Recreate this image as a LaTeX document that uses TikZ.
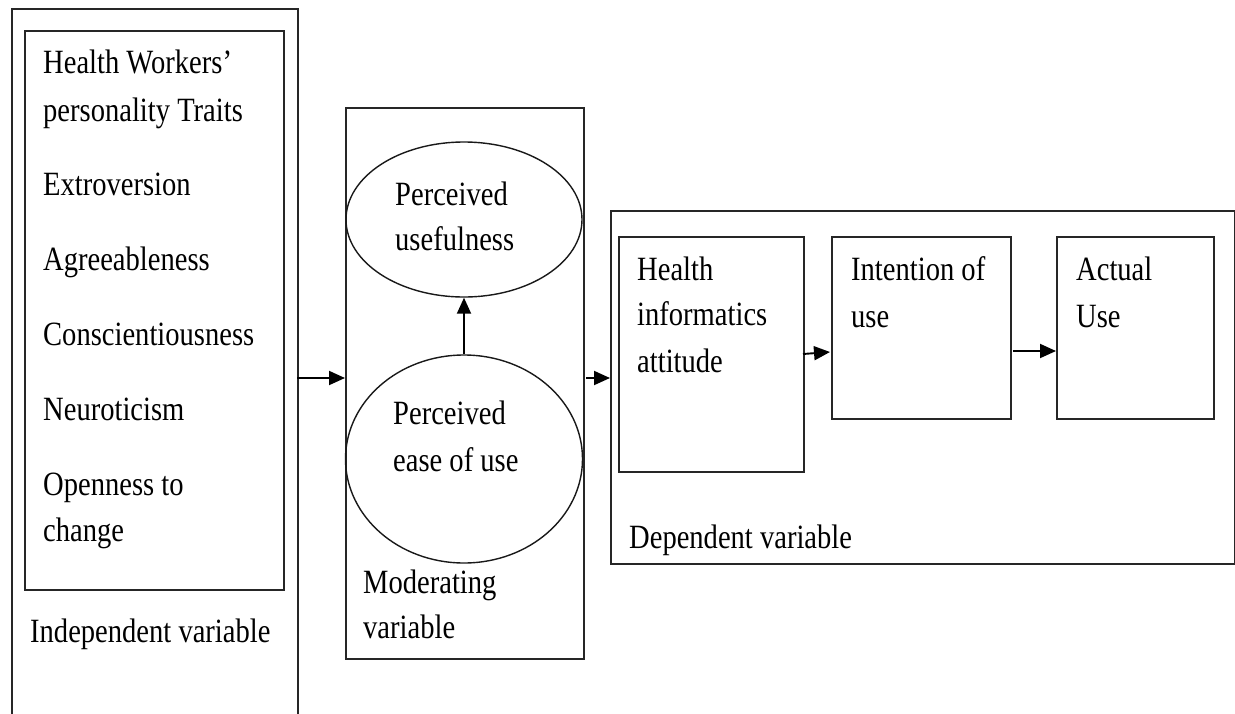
\documentclass[tikz,border=0pt]{standalone}
\usepackage{fontspec}
\setmainfont{Liberation Serif}
\usetikzlibrary{arrows.meta,shapes.geometric}
\newcommand{\sqz}[1]{\scalebox{0.84}[1]{#1}}
\tikzset{
  boxn/.style={draw=black!85, line width=1.6pt, rectangle, anchor=north west, inner sep=0pt},
  elln/.style={draw=black!90, line width=1.4pt, ellipse, inner sep=0pt},
  txt/.style={anchor=base west, inner sep=0pt, font=\fontsize{34}{48}\selectfont},
  arr/.style={line width=1.9pt, -{Triangle[length=16pt,width=14pt]}}
}
\begin{document}
\begin{tikzpicture}[x=1pt,y=-1pt]
\clip (0,0) rectangle (1235,713);
\fill[white] (0,0) rectangle (1235,713);
% boxes
\node[boxn, minimum width=286pt, minimum height=730pt] (outerL) at (11,8) {};
\node[boxn, minimum width=259pt, minimum height=559pt] (innerL) at (24,30) {};
\node[boxn, minimum width=238pt, minimum height=551pt] (mid) at (345,107) {};
\node[elln, minimum width=236pt, minimum height=155pt] (ellU) at (464,219.5) {};
\node[elln, minimum width=237pt, minimum height=208pt] (ellD) at (464,459) {};
\node[boxn, minimum width=624pt, minimum height=353pt] (dep) at (610,210) {};
\node[boxn, minimum width=185pt, minimum height=235pt] (hia) at (618,236) {};
\node[boxn, minimum width=179pt, minimum height=182pt] (int) at (831,236) {};
\node[boxn, minimum width=157pt, minimum height=182pt] (act) at (1056,236) {};
% left texts
\node[txt] (t1) at (43,73) {\sqz{Health Workers’}};
\node[txt] (t2) at (43,121) {\sqz{personality Traits}};
\node[txt] (t3) at (43,195) {\sqz{Extroversion}};
\node[txt] (t4) at (43,270) {\sqz{Agreeableness}};
\node[txt] (t5) at (43,345) {\sqz{Conscientiousness}};
\node[txt] (t6) at (43,420) {\sqz{Neuroticism}};
\node[txt] (t7) at (43,495) {\sqz{Openness to}};
\node[txt] (t8) at (43,541) {\sqz{change}};
\node[txt] (t9) at (30,642) {\sqz{Independent variable}};
% middle texts
\node[txt] (m1) at (395,205) {\sqz{Perceived}};
\node[txt] (m2) at (395,250) {\sqz{usefulness}};
\node[txt] (m3) at (393,424) {\sqz{Perceived}};
\node[txt] (m4) at (393,471) {\sqz{ease of use}};
\node[txt] (m5) at (363,593) {\sqz{Moderating}};
\node[txt] (m6) at (363,638) {\sqz{variable}};
% right texts
\node[txt] (r1) at (637,280) {\sqz{Health}};
\node[txt] (r2) at (637,325) {\sqz{informatics}};
\node[txt] (r3) at (637,372) {\sqz{attitude}};
\node[txt] (r4) at (851,280) {\sqz{Intention of}};
\node[txt] (r5) at (851,327) {\sqz{use}};
\node[txt] (r6) at (1076,280) {\sqz{Actual}};
\node[txt] (r7) at (1076,327) {\sqz{Use}};
\node[txt] (r8) at (629,548) {\sqz{Dependent variable}};
% connectors
\coordinate (c1) at (297,378);
\coordinate (c2) at (586,378);
\coordinate (c3) at (803,354);
\coordinate (c3e) at (830,352);
\coordinate (c4) at (1013,351);
\draw[arr] (c1) -- (mid.west |- c1);
\draw[arr] (c2) -- (dep.west |- c2);
\draw[arr] (c3) -- (c3e);
\draw[arr] (c4) -- (act.west |- c4);
\draw[arr] (ellD.north) -- (ellU.south);
\end{tikzpicture}
\end{document}
